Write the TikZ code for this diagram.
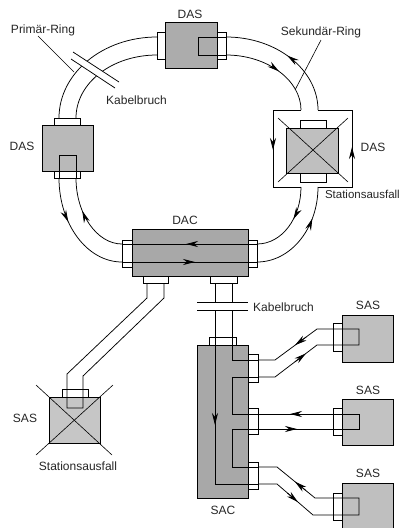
\documentclass[tikz,border=0pt]{standalone}
\usepackage{fontspec}
\setmainfont{Liberation Sans}
\usetikzlibrary{arrows.meta, decorations.markings}

\tikzset{
  stn/.style={rectangle, draw=black, line width=0.8pt, fill=gray!55, inner sep=0pt},
  plug/.style={rectangle, draw=black, line width=0.6pt, fill=white, inner sep=0pt},
  cab/.style={line width=0.75pt},
  cross/.style={line width=0.6pt},
  tip/.style={-{Stealth[length=12pt,width=6pt]}, line width=0.75pt},
  flowf/.style={postaction={decorate}, decoration={markings,
      mark=at position #1 with {\arrow{Stealth[length=12pt,width=6pt]}}}},
  flowb/.style={postaction={decorate}, decoration={markings,
      mark=at position #1 with {\arrowreversed{Stealth[length=12pt,width=6pt]}}}},
  lbl/.style={font=\fontsize{12}{14}\selectfont, text=black!85, inner sep=0pt}
}

\begin{document}
\begin{tikzpicture}[x=1pt, y=-1pt]
  \useasboundingbox (0,0) rectangle (401,528);
  % stations and concentrators
  \node[stn, minimum width=52pt, minimum height=46pt, fill=gray!65] (dasT) at (191,45) {};
  \node[plug, minimum width=8pt, minimum height=27pt] (dasTl) at (161,46) {};
  \node[plug, minimum width=9pt, minimum height=27pt] (dasTr) at (221.5,46) {};
  \node[stn, minimum width=51pt, minimum height=46pt] (dasL) at (67.5,148) {};
  \node[plug, minimum width=26pt, minimum height=7pt] (dasLt) at (67.5,121.5) {};
  \node[plug, minimum width=26pt, minimum height=7pt] (dasLb) at (67.5,174.5) {};
  \node[stn, minimum width=52pt, minimum height=45pt, fill=gray!50] (dasR) at (312,150.5) {};
  \node[plug, minimum width=26pt, minimum height=8pt] (dasRt) at (313,124) {};
  \node[plug, minimum width=26pt, minimum height=9pt] (dasRb) at (313,177.5) {};
  \draw[cross] (278,118) -- (348,182);
  \draw[cross] (348,118) -- (278,182);
  \node[stn, minimum width=116pt, minimum height=47pt, fill=gray!68] (dac) at (190,252.5) {};
  \node[plug, minimum width=10pt, minimum height=27pt] (dacL) at (127,253.5) {};
  \node[plug, minimum width=9pt, minimum height=27pt] (dacR) at (252.5,253.5) {};
  \node[plug, minimum width=25pt, minimum height=7pt] (dacB1) at (155.5,279.5) {};
  \node[plug, minimum width=27pt, minimum height=7pt] (dacB2) at (223.5,279.5) {};
  \node[stn, minimum width=51pt, minimum height=153pt, fill=gray!68] (sac) at (222.5,421.5) {};
  \node[plug, minimum width=27pt, minimum height=8pt] (sacT) at (222.5,341) {};
  \node[plug, minimum width=10pt, minimum height=28pt] (sac1) at (253,368) {};
  \node[plug, minimum width=10pt, minimum height=26pt] (sac2) at (253,421.5) {};
  \node[plug, minimum width=10pt, minimum height=27pt] (sac3) at (253,475.5) {};
  \node[stn, minimum width=51pt, minimum height=47pt, fill=gray!50] (sas1) at (367.5,338.5) {};
  \node[plug, minimum width=9pt, minimum height=28pt] (sas1p) at (337.5,337) {};
  \node[stn, minimum width=51pt, minimum height=46pt, fill=gray!48] (sas2) at (367.5,422) {};
  \node[plug, minimum width=9pt, minimum height=27pt] (sas2p) at (337.5,421.5) {};
  \node[stn, minimum width=51pt, minimum height=56pt, fill=gray!50] (sas3) at (367.5,511) {};
  \node[plug, minimum width=9pt, minimum height=27pt] (sas3p) at (337.5,506.5) {};
  \node[stn, minimum width=51pt, minimum height=46pt, fill=gray!45] (sasL) at (74.5,420) {};
  \node[plug, minimum width=26pt, minimum height=8pt] (sasLp) at (75,393) {};
  \draw[cross] (36,385) -- (112,455);
  \draw[cross] (113,385) -- (36,455);

  % ring cables
  \draw[cab] (157,37) .. controls +(-54,0) and +(0,-45) .. (59,118);
  \draw[cab] (157,55) .. controls +(-45,0) and +(0,-35) .. (76,118);
  \draw[cab, flowb=0.5] (226,37) .. controls +(51,0) and +(0,-40) .. (318,110);
  \draw[cab, flowf=0.55] (226,55) .. controls +(41,0) and +(0,-30) .. (301,110);
  \draw[cab] (226,37) -- (198,37) -- (198,55) -- (226,55);
  \draw[cab] (59,178) -- (59,155) -- (76,155) -- (76,178);
  \draw[cab, flowf=0.39] (59,178) .. controls +(0,46) and +(-35,0) .. (122,262);
  \draw[cab, flowb=0.38] (76,178) .. controls +(0,36) and +(-25,0) .. (122,244);
  \draw[cab, flowf=0.42] (301,187) .. controls +(0,31) and +(25,0) .. (257,244);
  \draw[cab, flowb=0.3] (318,187) .. controls +(0,41) and +(34,0) .. (257,262);
  \draw[cab] (301,110) -- (273,110) -- (273,187) -- (301,187);
  \draw[cab] (318,110) -- (352,110) -- (352,187) -- (318,187);
  \draw[cab] (122,244) -- (257,244);
  \draw[cab] (122,262) -- (257,262);

  % cable break, primary ring
  \fill[white] (73,52) -- (119,82) -- (115,88) -- (71,59) -- cycle;
  \draw[cab] (73,52) -- (119,82);
  \draw[cab] (71,59) -- (115,88);

  % leaders
  \draw[cross] (38,36) -- (74,72);
  \draw[cross] (321,40) -- (295,90);

  % tree to SAC
  \draw[cab] (215,283) -- (215,302);
  \draw[cab] (232,283) -- (232,302);
  \draw[cab] (197,302) -- (248,302);
  \draw[cab] (197,310) -- (248,310);
  \draw[cab] (232,310) -- (232,360) -- (258,360);
  \draw[cab] (258,377) -- (232,377) -- (232,414) -- (258,414);
  \draw[cab] (258,429) -- (232,429) -- (232,467) -- (258,467);
  \draw[cab] (258,484) -- (215,484) -- (215,310);
  \draw[cab] (258,360) -- (275,360) -- (317,329) -- (359,329) -- (359,345)
    -- (317,345) -- (275,377) -- (258,377);
  \draw[cab] (258,414) -- (359,414) -- (359,429) -- (258,429);
  \draw[cab] (258,467) -- (277,467) -- (315,498) -- (359,498) -- (359,515)
    -- (313,515) -- (277,484) -- (258,484);
  \draw[cab] (147,283) -- (147,298) -- (67,374) -- (67,408) -- (83,408)
    -- (83,376) -- (164,298) -- (164,283);

  % direction arrows
  \draw[tip] (273,136) -- (273,150);
  \draw[tip] (352,161) -- (352,147);
  \draw[tip] (200,244) -- (186,244);
  \draw[tip] (181,262) -- (195,262);
  \draw[tip] (215,411) -- (215,425);
  \draw[tip] (306.3,336.9) -- (295,345.2);
  \draw[tip] (294.9,361.9) -- (306,353.4);
  \draw[tip] (304,414) -- (290,414);
  \draw[tip] (283,429) -- (297,429);
  \draw[tip] (305.9,490.5) -- (295,481.7);
  \draw[tip] (287.4,493) -- (298,502.1);

  % labels
  \node[lbl] (tDasT) at (190,14) {DAS};
  \node[lbl] (tPrim) at (43,30) {Primär-Ring};
  \node[lbl, anchor=west] (tBruchA) at (106,100) {Kabelbruch};
  \node[lbl] (tSek) at (321,32) {Sekundär-Ring};
  \node[lbl] (tDasL) at (22,146) {DAS};
  \node[lbl] (tDasR) at (373,147) {DAS};
  \node[lbl, anchor=east, font=\fontsize{11.5}{13}\selectfont] (tAusR) at (400,194) {Stationsausfall};
  \node[lbl] (tDac) at (185,220) {DAC};
  \node[lbl, anchor=west] (tBruchB) at (253,307) {Kabelbruch};
  \node[lbl] (tSas1) at (368,305) {SAS};
  \node[lbl] (tSas2) at (368,390) {SAS};
  \node[lbl] (tSas3) at (368,473) {SAS};
  \node[lbl] (tSac) at (223,510) {SAC};
  \node[lbl] (tSasL) at (25,418) {SAS};
  \node[lbl] (tAusL) at (78,466) {Stationsausfall};
\end{tikzpicture}
\end{document}
